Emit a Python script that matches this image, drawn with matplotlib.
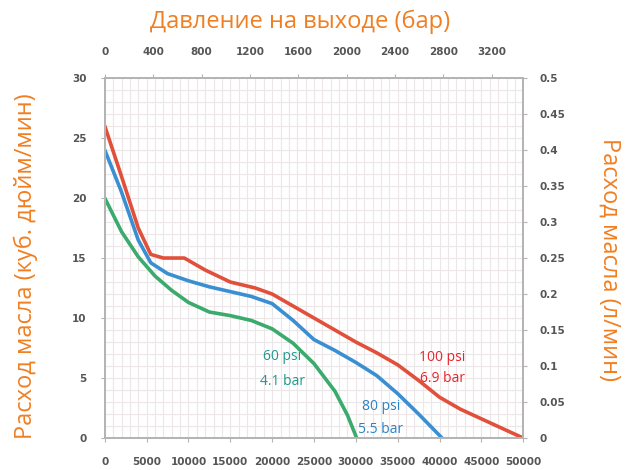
import matplotlib
matplotlib.use("Agg")
import matplotlib.pyplot as plt
import numpy as np

# flow curves (x = bottom axis units, y = куб. дюйм/мин)
red_x = [0, 2000, 4000, 5500, 7000, 9500, 12000, 15000, 18000, 20000, 22500,
         25000, 27500, 30000, 32500, 35000, 37500, 40000, 42500, 45000, 47500, 50000]
red_y = [26, 21.8, 17.5, 15.3, 15.0, 15.0, 14.0, 13.0, 12.5, 12.0, 11.0,
         10.0, 9.0, 8.0, 7.1, 6.1, 4.8, 3.4, 2.4, 1.6, 0.8, 0]

blue_x = [0, 2000, 4000, 5500, 7500, 10000, 12500, 15000, 17500, 20000, 22500,
          25000, 27500, 30000, 32500, 35000, 37500, 40300]
blue_y = [24, 20.5, 16.5, 14.6, 13.7, 13.1, 12.6, 12.2, 11.8, 11.2, 9.8,
          8.2, 7.3, 6.3, 5.2, 3.7, 2.0, 0]

green_x = [0, 2000, 4000, 6000, 8000, 10000, 12500, 15000, 17500, 20000, 22500,
           25000, 27500, 29000, 30100]
green_y = [20, 17.2, 15.1, 13.5, 12.3, 11.3, 10.5, 10.2, 9.8, 9.1, 7.9,
           6.2, 3.9, 1.9, 0]

bottom_ticks = [0, 5000, 10000, 15000, 20000, 25000, 30000, 35000, 40000, 45000, 50000]
top_ticks = [0, 400, 800, 1200, 1600, 2000, 2400, 2800, 3200]
left_ticks = [0, 5, 10, 15, 20, 25, 30]
right_ticks = [0, 0.05, 0.1, 0.15, 0.2, 0.25, 0.3, 0.35, 0.4, 0.45, 0.5]
right_labels = ["0", "0.05", "0.1", "0.15", "0.2", "0.25", "0.3", "0.35", "0.4", "0.45", "0.5"]

orange = "#f07f22"
tick_color = "#555555"
spine_color = "#b4b4b4"
grid_color = "#ede6e9"

fig = plt.figure(figsize=(6.35, 4.70), dpi=100)
ax = fig.add_axes([0.165, 0.068, 0.659, 0.766])

ax.set_xlim(0, 50000)
ax.set_ylim(0, 30)
ax.set_xticks(bottom_ticks)
ax.set_yticks(left_ticks)
ax.set_xticks(np.arange(0, 50001, 1000), minor=True)
ax.set_yticks(np.arange(0, 30.1, 1), minor=True)
ax.grid(True, which="both", color=grid_color, linewidth=0.8)
ax.set_axisbelow(True)

ax.plot(green_x, green_y, color="#3aab6c", lw=2.6, solid_capstyle="round")
ax.plot(blue_x, blue_y, color="#3a8fd2", lw=2.6, solid_capstyle="round")
ax.plot(red_x, red_y, color="#e0503a", lw=2.6, solid_capstyle="round")

lab_font = dict(family=["Open Sans", "DejaVu Sans"], fontsize=10, ha="center", va="center")
ax.text(21200, 6.8, "60 psi", color="#1e9a8c", **lab_font)
ax.text(21200, 4.7, "4.1 bar", color="#1e9a8c", **lab_font)
ax.text(33000, 2.6, "80 psi", color="#2a82c2", **lab_font)
ax.text(33000, 0.7, "5.5 bar", color="#2a82c2", **lab_font)
ax.text(40300, 6.7, "100 psi", color="#e8242c", **lab_font)
ax.text(40300, 5.0, "6.9 bar", color="#e8242c", **lab_font)

ax_top = ax.twiny()
ax_top.set_xlim(0, 3460)
ax_top.set_xticks(top_ticks)

ax_r = ax.twinx()
ax_r.set_ylim(0, 0.5)
ax_r.set_yticks(right_ticks)
ax_r.set_yticklabels(right_labels)

for a in (ax, ax_top, ax_r):
    for s in a.spines.values():
        s.set_color(spine_color)
        s.set_linewidth(1.3)
    a.tick_params(which="major", length=3, color=spine_color, labelcolor=tick_color,
                  labelsize=7.5)
    a.tick_params(which="minor", length=0)
    for lbl in a.get_xticklabels() + a.get_yticklabels():
        lbl.set_fontweight("bold")
ax.tick_params(axis="x", pad=11)
ax.tick_params(axis="y", pad=10)
ax_top.tick_params(axis="x", pad=12)
ax_r.tick_params(axis="y", pad=9)

fig.text(0.472, 0.953, "Давление на выходе (бар)", color=orange, fontsize=17,
         ha="center", va="center", family=["Open Sans", "DejaVu Sans"])
fig.text(0.040, 0.434, "Расход масла (куб. дюйм/мин)", color=orange, fontsize=17,
         ha="center", va="center", rotation=90, family=["Open Sans", "DejaVu Sans"])
fig.text(0.960, 0.447, "Расход масла (л/мин)", color=orange, fontsize=17,
         ha="center", va="center", rotation=-90, family=["Open Sans", "DejaVu Sans"])

fig.savefig("out.png", dpi=100)
